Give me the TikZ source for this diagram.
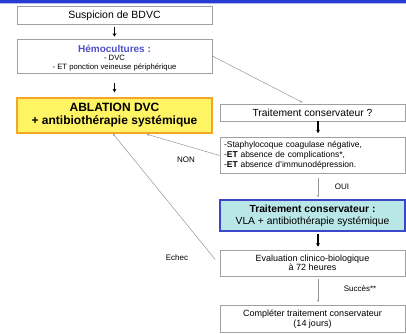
\documentclass[tikz,border=0pt]{standalone}
\usepackage{fontspec}
\setmainfont{Liberation Sans}
\usetikzlibrary{arrows.meta}
\definecolor{topblue}{RGB}{40,60,210}
\definecolor{hemo}{RGB}{80,80,200}
\definecolor{boxgray}{RGB}{160,160,160}
\definecolor{ablfill}{RGB}{255,245,100}
\definecolor{ablborder}{RGB}{245,165,40}
\definecolor{tcfill}{RGB}{185,230,230}
\definecolor{tcborder}{RGB}{60,70,200}
\definecolor{thinline}{RGB}{150,150,150}
\newcommand{\fs}[2]{\fontsize{#1}{#2}\selectfont}
\tikzset{
  box/.style={draw=boxgray, line width=0.6pt, fill=white, inner sep=4pt, align=center},
  ablbox/.style={draw=ablborder, line width=1.4pt, fill=ablfill, inner sep=4pt, align=center},
  tcbox/.style={draw=tcborder, line width=1.1pt, fill=tcfill, inner sep=4pt, align=center},
  thick arrow/.style={line width=1.1pt, -{Stealth[length=3.5pt,width=3.8pt]}},
  thin arrow/.style={draw=thinline, line width=0.5pt, -{Stealth[length=2.5pt,width=2pt]}},
  lbl/.style={font=\fs{8}{9}, inner sep=0pt}
}
\begin{document}
\begin{tikzpicture}[x=1pt,y=-1pt]
\useasboundingbox (0,0) rectangle (406,333);
\fill[topblue] (0,0) rectangle (406,2.6);
\fill[topblue!35] (0,2.6) rectangle (406,3.6);
% left column
\node[box, minimum width=195, minimum height=17, font=\fs{10.5}{12}] (s) at (114.5,15.5) {Suspicion de BDVC};
\node[box, minimum width=195, minimum height=34] (h) at (114.5,56) {};
\node[align=center, inner sep=0pt, font=\fs{7.7}{8.3}] (ht) at (114.5,58)
  {{\fs{10}{8.3}\bfseries\color{hemo}Hémocultures :}\\- DVC\\- ET ponction veineuse périphérique};
\node[ablbox, minimum width=195, minimum height=35, font=\fs{12}{13}\bfseries] (a) at (114.5,115.5)
  {ABLATION DVC\\+ antibiothérapie systémique};
% right column
\node[box, minimum width=185, minimum height=17, font=\fs{10.3}{12}] (q) at (312.5,112.5) {Traitement conservateur ?};
\node[box, minimum width=185, minimum height=35, align=left, text width=177, font=\fs{8.5}{10}] (c) at (312.5,155.5)
  {-Staphylocoque coagulase négative,\\-\textbf{ET} absence de complications*,\\-\textbf{ET} absence d’immunodépression.};
\node[tcbox, minimum width=185, minimum height=31, font=\fs{10.3}{12}] (t) at (312.5,215.5)
  {\textbf{Traitement conservateur :}\\VLA + antibiothérapie systémique};
\node[box, minimum width=185, minimum height=26, font=\fs{9}{9.5}] (e) at (312.5,263)
  {Evaluation clinico-biologique\\à 72 heures};
\node[box, minimum width=185, minimum height=26, font=\fs{9}{10.5}] (k) at (312.5,319)
  {Compléter traitement conservateur\\(14 jours)};
% connectors
\draw[thick arrow, shorten <=2pt, shorten >=2pt] (s.south) -- (h.north);
\draw[thick arrow, shorten <=10pt, shorten >=5pt] (h.south) -- (a.north);
\draw[thin arrow, shorten >=3pt] (h.east) -- ([xshift=-7.5pt]q.north);
\draw[thick arrow, shorten <=0pt, shorten >=4pt] ([xshift=5.5pt]q.south) -- ([xshift=5.5pt]c.north);
\draw[thin arrow, shorten >=2pt] (c.west) -- ([xshift=30.5pt]a.south);
\draw[thin arrow, shorten <=4pt, shorten >=2pt] ([xshift=5.5pt]c.south) -- ([xshift=5.5pt]t.north);
\draw[thick arrow, shorten <=2pt, shorten >=3pt] ([xshift=5.5pt]t.south) -- ([xshift=5.5pt]e.north);
\draw[thin arrow, shorten <=7pt] ([yshift=-2pt]e.west) -- ([xshift=-1.5pt]a.south);
\draw[thin arrow, shorten <=3pt, shorten >=3pt] ([xshift=5.5pt]e.south) -- ([xshift=5.5pt]k.north);
% labels
\node[lbl] (non) at (186,160) {NON};
\node[lbl] (oui) at (342,187) {OUI};
\node[lbl] (ech) at (177,258) {Echec};
\node[lbl] (suc) at (360,289) {Succès**};
\end{tikzpicture}
\end{document}
